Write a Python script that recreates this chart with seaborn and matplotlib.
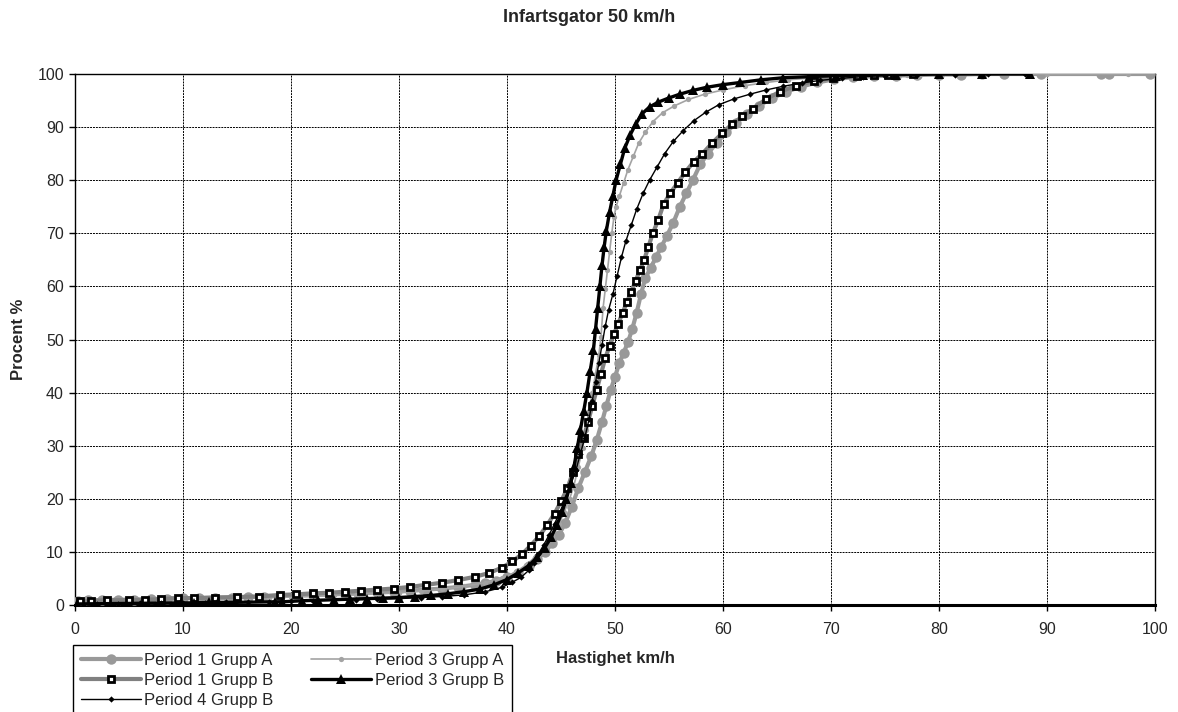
import matplotlib
matplotlib.use("Agg")
import matplotlib.pyplot as plt
import seaborn as sns
import pandas as pd

# Cumulative speed distributions: (speed km/h, cumulative percent)
p1_grupp_a = [
    (0.3, 0.8), (1.2, 0.9), (2.5, 0.9), (4, 1), (5.5, 1), (7, 1.1), (8.5, 1.2), (10, 1.3),
    (11.5, 1.3), (13, 1.4), (14.5, 1.4), (16, 1.5), (17.5, 1.6), (19, 1.7), (20.5, 1.8),
    (22, 1.9), (23.5, 2), (25, 2.1), (26.5, 2.2), (28, 2.4), (29.5, 2.5), (31, 2.7),
    (32.5, 2.9), (34, 3.1), (35.5, 3.4), (37, 3.8), (38, 4.1), (39, 4.6), (40, 5.2),
    (41, 6.1), (42, 7.3), (42.8, 8.6), (43.5, 10), (44.2, 11.6), (44.8, 13.2), (45.4, 15.5),
    (46, 18.5), (46.6, 22), (47.2, 25), (47.8, 28), (48.3, 31), (48.8, 34.5), (49.2, 37.5),
    (49.6, 40.5), (50, 43), (50.4, 45.5), (50.8, 47.5), (51.2, 49.5), (51.6, 52), (52, 55),
    (52.4, 58.5), (52.8, 61.5), (53.3, 63.5), (53.8, 65.5), (54.3, 67.5), (54.8, 69.5),
    (55.4, 72), (56, 75), (56.6, 77.5), (57.2, 80), (57.9, 83), (58.6, 85), (59.4, 87),
    (60.3, 89), (61.2, 90.8), (62.2, 92.5), (63.3, 94), (64.5, 95.4), (65.8, 96.6),
    (67.2, 97.6), (68.7, 98.4), (70.3, 99), (72, 99.4), (74, 99.6), (76, 99.7), (78, 99.8),
    (80, 99.9), (82, 99.9), (84, 100), (86, 100), (89.4, 100), (95, 100), (95.7, 100),
    (99.5, 100),
]

p1_grupp_b = [
    (0.5, 0.7), (1.5, 0.8), (3, 0.9), (5, 0.9), (6.5, 1), (8, 1.1), (9.5, 1.3), (11, 1.3),
    (13, 1.4), (15, 1.5), (17, 1.6), (19, 1.9), (20.5, 2), (22, 2.2), (23.5, 2.3), (25, 2.5),
    (26.5, 2.7), (28, 2.9), (29.5, 3.1), (31, 3.4), (32.5, 3.8), (34, 4.2), (35.5, 4.7),
    (37, 5.3), (38.3, 6), (39.5, 7), (40.5, 8.2), (41.4, 9.6), (42.2, 11.2), (43, 13),
    (43.7, 15), (44.4, 17.2), (45, 19.5), (45.6, 22), (46.1, 25), (46.6, 28.5), (47.1, 31.5),
    (47.5, 34.5), (47.9, 37.5), (48.3, 40.5), (48.7, 43.5), (49.1, 46.5), (49.5, 48.8),
    (49.9, 51), (50.3, 53), (50.7, 55), (51.1, 57), (51.5, 59), (51.9, 61), (52.3, 63),
    (52.7, 65), (53.1, 67.5), (53.5, 70), (54, 72.5), (54.5, 75.5), (55.1, 77.5), (55.8, 79.5),
    (56.5, 81.5), (57.3, 83.5), (58.1, 85), (59, 87), (59.9, 88.8), (60.8, 90.5), (61.8, 92),
    (62.8, 93.5), (64, 95.3), (65.3, 96.7), (66.8, 97.8), (68.4, 98.7), (70.2, 99.3),
    (72.4, 99.7), (74, 99.8), (75.3, 99.9), (77.6, 100),
]

p3_grupp_a = [
    (0.5, 0.6), (2, 0.7), (4, 0.8), (6, 0.9), (8, 1), (10, 1.1), (12, 1.2), (14, 1.2),
    (16, 1.3), (18, 1.4), (20, 1.5), (22, 1.6), (24, 1.8), (26, 1.9), (28, 2.1), (30, 2.3),
    (32, 2.6), (34, 3), (36, 3.5), (38, 4.2), (39.5, 5), (40.8, 6.2), (41.8, 7.6), (42.7, 9.2),
    (43.5, 11), (44.2, 13), (44.8, 15.2), (45.3, 17.5), (45.8, 20), (46.2, 22.5), (46.6, 26),
    (47, 29.5), (47.3, 33), (47.6, 36.5), (47.9, 40), (48.2, 43.5), (48.5, 47), (48.7, 50.5),
    (48.9, 56), (49.1, 59.5), (49.3, 63), (49.5, 66.5), (49.7, 70), (49.9, 73), (50.1, 75),
    (50.4, 77), (50.8, 79.5), (51.2, 82), (51.7, 84.5), (52.2, 87), (52.8, 89), (53.5, 91),
    (54.4, 92.7), (55.5, 94), (56.8, 95.2), (58.3, 96.2), (60, 97), (62, 97.8), (64, 98.4),
    (66, 98.9), (68.5, 99.3), (71, 99.6), (74, 99.8), (77, 99.9), (80, 100), (84, 100),
    (90, 100), (97.5, 100),
]

p3_grupp_b = [
    (0.2, 0.2), (9.8, 0.4), (11, 0.4), (12.4, 0.5), (13.2, 0.5), (14.8, 0.5), (18.5, 0.6),
    (19.2, 0.6), (21, 0.8), (22.5, 0.9), (24, 1), (25.5, 1.1), (27, 1.2), (28.5, 1.3),
    (30, 1.4), (31.5, 1.6), (33, 1.8), (34.5, 2.1), (36, 2.5), (37.5, 3), (38.8, 3.8),
    (40, 4.8), (41, 6), (42, 7.4), (42.8, 9), (43.5, 10.8), (44.1, 12.8), (44.6, 15),
    (45.1, 17.5), (45.5, 20), (45.9, 23), (46.2, 26), (46.5, 29.5), (46.8, 33), (47.1, 36.5),
    (47.4, 40), (47.7, 44), (48, 48), (48.2, 52), (48.4, 56), (48.6, 60), (48.8, 64),
    (49, 67.5), (49.2, 70.5), (49.5, 74), (49.8, 77), (50.1, 80), (50.5, 83), (50.9, 86),
    (51.4, 88.5), (51.9, 90.5), (52.5, 92.5), (53.2, 93.8), (54, 94.7), (55, 95.5),
    (56, 96.2), (57.2, 96.9), (58.5, 97.5), (60, 98), (61.6, 98.4), (63.5, 98.9),
    (65.6, 99.3), (68, 99.5), (70.5, 99.7), (73, 99.8), (76, 99.9), (80, 100), (84, 100),
    (88.4, 100),
]

p4_grupp_b = [
    (0.2, 0.1), (2, 0.2), (4, 0.2), (6, 0.3), (8, 0.3), (10, 0.4), (12, 0.4), (14, 0.5),
    (16, 0.5), (18, 0.6), (20, 0.7), (22, 0.8), (24, 0.9), (26, 1), (28, 1.1), (30, 1.2),
    (32, 1.4), (34, 1.6), (36, 1.9), (38, 2.5), (39.5, 3.3), (40.5, 4.3), (41.3, 5.2),
    (42, 6.5), (42.5, 8), (42.9, 9.6), (43.4, 11.3), (43.9, 13.2), (44.4, 15.3), (44.9, 17.5),
    (45.4, 20), (45.9, 22.7), (46.4, 25.5), (46.8, 28.5), (47.2, 31.5), (47.6, 35),
    (47.9, 38.5), (48.2, 42), (48.5, 45.5), (48.8, 49), (49.1, 52.5), (49.4, 55.5),
    (49.8, 58.5), (50.2, 62), (50.6, 65.5), (51, 68.5), (51.5, 71.5), (52, 74.5),
    (52.6, 77.5), (53.2, 80), (53.9, 82.5), (54.6, 85), (55.4, 87.3), (56.3, 89.3),
    (57.3, 91.2), (58.4, 92.8), (59.6, 94.2), (61, 95.3), (62.5, 96.2), (64, 97),
    (65.6, 97.7), (67.3, 98.3), (69, 98.8), (71, 99.2), (73, 99.5), (75, 99.7), (78, 99.8),
    (81.5, 99.9), (84.5, 100), (88, 100),
]

series_data = {
    "Period 1 Grupp A": p1_grupp_a,
    "Period 3 Grupp A": p3_grupp_a,
    "Period 1 Grupp B": p1_grupp_b,
    "Period 4 Grupp B": p4_grupp_b,
    "Period 3 Grupp B": p3_grupp_b,
}

x_ticks = [0, 10, 20, 30, 40, 50, 60, 70, 80, 90, 100]
y_ticks = [0, 10, 20, 30, 40, 50, 60, 70, 80, 90, 100]

rows = []
for name, pts in series_data.items():
    for s, p in pts:
        rows.append({"serie": name, "hastighet": s, "procent": p})
df = pd.DataFrame(rows)

styles = {
    "Period 1 Grupp A": dict(color="#999999", lw=3.0, marker="o", ms=7.5,
                             mfc="#999999", mec="#999999", mew=0),
    "Period 3 Grupp A": dict(color="#a3a3a3", lw=1.2, marker="o", ms=3.8,
                             mfc="#a3a3a3", mec="#a3a3a3", mew=0),
    "Period 1 Grupp B": dict(color="#808080", lw=3.0, marker="s", ms=4.6,
                             mfc="white", mec="black", mew=2.0),
    "Period 4 Grupp B": dict(color="black", lw=1.0, marker="D", ms=3.2,
                             mfc="black", mec="black", mew=0),
    "Period 3 Grupp B": dict(color="black", lw=2.4, marker="^", ms=6.5,
                             mfc="black", mec="black", mew=0),
}

sns.set_style("white")
plt.rcParams["font.family"] = ["Liberation Sans", "DejaVu Sans"]

fig = plt.figure(figsize=(11.78, 7.12), dpi=100)
ax = fig.add_axes([75 / 1178, 1 - 605 / 712, 1080 / 1178, 531 / 712])

handles = {}
for name in series_data:
    sub = df[df["serie"] == name]
    st = styles[name]
    sns.lineplot(data=sub, x="hastighet", y="procent", sort=False, estimator=None,
                 ax=ax, legend=False, color=st["color"], linewidth=st["lw"],
                 marker=st["marker"], markersize=st["ms"], markerfacecolor=st["mfc"],
                 markeredgecolor=st["mec"], markeredgewidth=st["mew"], zorder=3)
    handles[name] = ax.lines[-1]

ax.set_xlim(0, 100)
ax.set_ylim(0, 100)
ax.set_xticks(x_ticks)
ax.set_yticks(y_ticks)
ax.tick_params(axis="both", labelsize=11.5, direction="out", length=4, width=1,
               color="black", left=True, bottom=True)
ax.tick_params(axis="x", pad=8)
ax.tick_params(axis="y", pad=4)
ax.grid(True, color="black", linestyle=(0, (2, 1)), linewidth=0.7)
ax.set_axisbelow(True)
for side, sp in ax.spines.items():
    sp.set_visible(True)
    sp.set_color("black")
    sp.set_linewidth(1.0)
ax.spines["bottom"].set_linewidth(2.2)

ax.set_xlabel("Hastighet km/h", fontsize=12, fontweight="bold", labelpad=10)
ax.set_ylabel("Procent %", fontsize=12, fontweight="bold", labelpad=8)
fig.text(0.5, 1 - 18 / 712, "Infartsgator 50 km/h", ha="center", va="center",
         fontsize=13, fontweight="bold")

order = ["Period 1 Grupp A", "Period 1 Grupp B", "Period 4 Grupp B",
         "Period 3 Grupp A", "Period 3 Grupp B"]
leg = fig.legend([handles[n] for n in order], order, ncol=2, loc="upper left",
                 bbox_to_anchor=(73 / 1178, 1 - 645 / 712), borderaxespad=0,
                 fontsize=12, frameon=True, fancybox=False, edgecolor="black",
                 framealpha=1, handlelength=3.6, handletextpad=0.2,
                 columnspacing=2.3, labelspacing=0.32, borderpad=0.45,
                 markerscale=1.0)
leg.get_frame().set_linewidth(1.0)

fig.savefig("out.png", dpi=100)
